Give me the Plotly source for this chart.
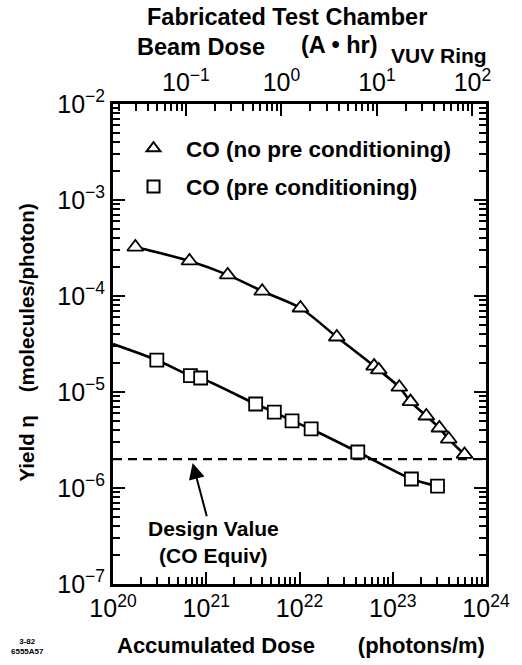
import plotly.graph_objects as go

# ---- data (log10 of values) ----
dose_no_precond = [20.24, 20.82, 21.23, 21.60, 22.01, 22.40, 22.80, 22.85, 23.07, 23.19, 23.36, 23.50, 23.60, 23.77]
yield_no_precond = [-3.49, -3.635, -3.78, -3.95, -4.125, -4.427, -4.73, -4.77, -4.95, -5.10, -5.25, -5.375, -5.49, -5.65]

dose_precond = [20.47, 20.83, 20.94, 21.53, 21.73, 21.92, 22.125, 22.625, 23.20, 23.48]
yield_precond = [-4.667, -4.83, -4.854, -5.125, -5.21, -5.30, -5.385, -5.625, -5.906, -5.98]

# fitted curve for pre-conditioned data extends to the left axis
fit_precond_dose = [20.0] + dose_precond
fit_precond_yield = [-4.5] + yield_precond

design_value = 2e-6

x_tick_exps = [20, 21, 22, 23, 24]
y_tick_exps = [-7, -6, -5, -4, -3, -2]
top_tick_exps = [-1, 0, 1, 2]
minor_mults = [2, 3, 4, 5, 6, 7, 8, 9]

to_val = lambda arr: [10.0 ** v for v in arr]

def minor_vals(exps):
    return [m * 10.0 ** e for e in exps for m in minor_mults]

FONT = "Liberation Sans"
BLACK = "black"

X_RANGE = [20, 24]
Y_RANGE = [-7, -2]
TOP_RANGE = [-1.763, 2.142]

fig = go.Figure()

fig.add_trace(go.Scatter(x=to_val(dose_no_precond), y=to_val(yield_no_precond), mode="lines",
                         line=dict(color=BLACK, width=2.6, shape="spline", smoothing=0.8),
                         showlegend=False, hoverinfo="skip"))
fig.add_trace(go.Scatter(x=to_val(fit_precond_dose), y=to_val(fit_precond_yield), mode="lines",
                         line=dict(color=BLACK, width=2.6, shape="spline", smoothing=0.8),
                         showlegend=False, hoverinfo="skip"))
fig.add_trace(go.Scatter(x=[10.0 ** X_RANGE[0], 10.0 ** X_RANGE[1]], y=[design_value, design_value],
                         mode="lines", line=dict(color=BLACK, width=2.2, dash="9px,6px"),
                         showlegend=False, hoverinfo="skip"))
fig.add_trace(go.Scatter(x=to_val(dose_no_precond), y=to_val(yield_no_precond), mode="markers",
                         marker=dict(symbol="triangle-up", size=14, color="white",
                                     line=dict(color=BLACK, width=1.8)),
                         name="&nbsp;&nbsp;CO (no pre conditioning)", legendgroup="a"))
fig.add_trace(go.Scatter(x=to_val(dose_precond), y=to_val(yield_precond), mode="markers",
                         marker=dict(symbol="square", size=13, color="white",
                                     line=dict(color=BLACK, width=1.8)),
                         name="&nbsp;&nbsp;CO (pre conditioning)", legendgroup="b"))

# placeholders anchoring the top axis and the minor-tick axes
for xa, ya in [("x2", "y"), ("x3", "y"), ("x4", "y"), ("x", "y2")]:
    fig.add_trace(go.Scatter(x=[None], y=[None], xaxis=xa, yaxis=ya, showlegend=False, hoverinfo="skip"))

def sup(e):
    return "10<sup>" + (str(e).replace("-", "\u2212")) + "</sup>"

TICKFONT = dict(family=FONT, size=25, color=BLACK)
major_common = dict(showgrid=False, zeroline=False, showline=True, linecolor=BLACK, linewidth=3,
                    ticks="inside", ticklen=12, tickwidth=2.2, tickcolor=BLACK, tickfont=TICKFONT)
minor_common = dict(showgrid=False, zeroline=False, showline=False, showticklabels=False,
                    ticks="inside", ticklen=7, tickwidth=1.5, tickcolor=BLACK, type="log",
                    tickmode="array")

fig.update_layout(
    width=522, height=665,
    margin=dict(l=113, r=25, t=104, b=81),
    paper_bgcolor="white", plot_bgcolor="white",
    font=dict(family=FONT, color=BLACK),
    xaxis=dict(type="log", range=X_RANGE, tickmode="array",
               tickvals=to_val(x_tick_exps), ticktext=[sup(e) for e in x_tick_exps],
               **major_common),
    xaxis2=dict(type="log", range=TOP_RANGE, overlaying="x", side="top", tickmode="array",
                tickvals=to_val(top_tick_exps), ticktext=[sup(e) for e in top_tick_exps],
                **major_common),
    xaxis3=dict(range=X_RANGE, overlaying="x", side="bottom",
                tickvals=minor_vals(x_tick_exps), **minor_common),
    xaxis4=dict(range=TOP_RANGE, overlaying="x", side="top",
                tickvals=minor_vals([-2] + top_tick_exps), **minor_common),
    yaxis=dict(type="log", range=Y_RANGE, mirror="ticks", tickmode="array",
               tickvals=to_val(y_tick_exps), ticktext=[sup(e) for e in y_tick_exps],
               **major_common),
    yaxis2=dict(range=Y_RANGE, overlaying="y", side="left", mirror="ticks",
                tickvals=minor_vals(y_tick_exps), **minor_common),
    legend=dict(x=0.055, y=0.952, xanchor="left", yanchor="top", bgcolor="rgba(0,0,0,0)",
                font=dict(family=FONT, size=22.5, color=BLACK, weight="bold"), itemsizing="constant",
                tracegroupgap=6),
)

ann = []
def add_text(text, x, y, size, xanchor="center", yanchor="middle", textangle=0):
    ann.append(dict(text=text, x=x, y=y, xref="paper", yref="paper", showarrow=False,
                    xanchor=xanchor, yanchor=yanchor, textangle=textangle,
                    font=dict(family=FONT, size=size, color=BLACK, weight="bold")))

# pixel helpers for layout (plot area: x 113..497, y 104..584)
px = lambda p: (p - 113) / 384
py = lambda p: (584 - p) / 480

add_text("Fabricated Test Chamber", px(292), py(17), 23.5)
add_text("Beam Dose", px(204), py(47), 23.5)
add_text("(A \u2022 hr)", px(346), py(45), 23.5)
add_text("VUV&nbsp;Ring", px(397), py(55), 21, xanchor="left")
add_text("Accumulated Dose&nbsp;&nbsp;&nbsp;&nbsp;&nbsp;&nbsp;&nbsp;(photons/m)", px(307), py(645), 22)
add_text("Yield \u03b7&nbsp;&nbsp;&nbsp;&nbsp;(molecules/photon)", px(23), py(343), 20.5, textangle=-90)
add_text("Design Value<br>(CO Equiv)", px(216), py(542), 21)
add_text("3-82<br>6555A57", px(6), py(646), 8, xanchor="left")

# arrow pointing at the design value line
ann.append(dict(x=20.854, y=-5.74, ax=21.01, ay=-6.31, xref="x", yref="y", axref="x", ayref="y",
                showarrow=True, arrowhead=2, arrowsize=1.6, arrowwidth=2, arrowcolor=BLACK, text=""))

fig.update_layout(annotations=ann)

fig.write_html("out.html")
